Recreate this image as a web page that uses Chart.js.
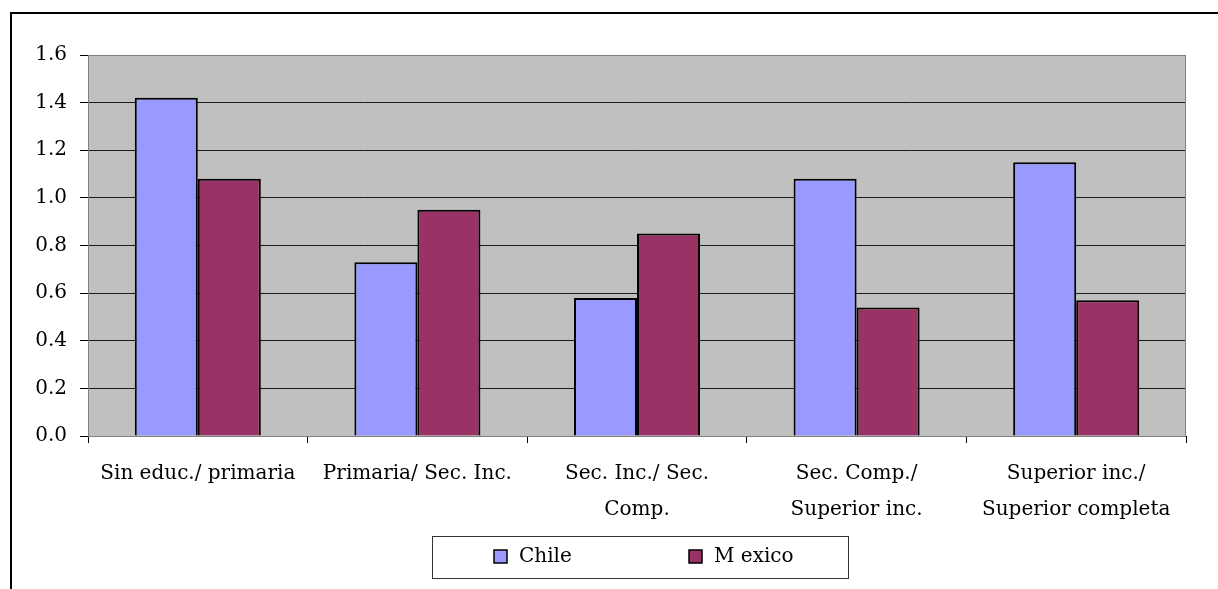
<!DOCTYPE html>
<html>
<head>
<meta charset="utf-8">
<script src="https://cdn.jsdelivr.net/npm/chart.js@4"></script>
<style>
  html, body { margin: 0; padding: 0; background: #fff; }
  #wrap { width: 1218px; height: 589px; position: relative; }
</style>
</head>
<body>
<div id="wrap"><canvas id="eduChart" width="1218" height="589"></canvas></div>
<script>
// categories and values
var categories = [
    "Sin educ./ primaria",
    "Primaria/ Sec. Inc.",
    ["Sec. Inc./ Sec.", "Comp."],
    ["Sec. Comp./", "Superior inc."],
    ["Superior inc./", "Superior completa"]
];
var chileValues = [1.42, 0.73, 0.58, 1.08, 1.15];
var mexicoValues = [1.08, 0.95, 0.85, 0.54, 0.57];
var yTicks = [0, 0.2, 0.4, 0.6, 0.8, 1.0, 1.2, 1.4, 1.6];

var serif = "'DejaVu Serif', serif";

// gray plot area, outer frame and the boxed legend
var decorations = {
    id: 'decorations',
    beforeDraw: function (chart) {
        var ctx = chart.ctx, a = chart.chartArea;
        ctx.save();
        ctx.fillStyle = '#C0C0C0';
        ctx.fillRect(a.left, a.top, a.right - a.left, a.bottom - a.top);
        ctx.restore();
    },
    afterDraw: function (chart) {
        var ctx = chart.ctx, a = chart.chartArea;
        ctx.save();
        // plot border
        ctx.strokeStyle = '#808080';
        ctx.lineWidth = 1;
        ctx.strokeRect(a.left + 0.5, a.top + 0.5, a.right - a.left - 1, a.bottom - a.top);
        // outer frame
        ctx.strokeStyle = '#000';
        ctx.lineWidth = 2;
        ctx.beginPath();
        ctx.moveTo(11, 589);
        ctx.lineTo(11, 13);
        ctx.lineTo(1218, 13);
        ctx.stroke();
        // legend
        ctx.lineWidth = 1;
        ctx.strokeStyle = '#333';
        ctx.strokeRect(432.5, 536.5, 416, 42);
        var items = [
            { x: 494, label: chart.data.datasets[0].label, color: chart.data.datasets[0].backgroundColor },
            { x: 689, label: chart.data.datasets[1].label, color: chart.data.datasets[1].backgroundColor }
        ];
        ctx.font = '20px ' + serif;
        ctx.textBaseline = 'middle';
        items.forEach(function (it) {
            ctx.fillStyle = it.color;
            ctx.fillRect(it.x, 550, 13, 13);
            ctx.strokeStyle = '#000';
            ctx.lineWidth = 1.5;
            ctx.strokeRect(it.x, 550, 13, 13);
            ctx.fillStyle = '#000';
            ctx.fillText(it.label, it.x + 25, 557);
        });
        ctx.restore();
    }
};

var ctx = document.getElementById("eduChart").getContext('2d');
var chartInstance = new Chart(ctx, {
    type: 'bar',
    data: {
        labels: categories,
        datasets: [{
            label: 'Chile',
            data: chileValues,
            backgroundColor: '#9999FF',
            borderColor: '#000',
            borderWidth: 2,
            barPercentage: 1.0,
            categoryPercentage: 0.574
        }, {
            label: 'M exico',
            data: mexicoValues,
            backgroundColor: '#993366',
            borderColor: '#000',
            borderWidth: 2,
            barPercentage: 1.0,
            categoryPercentage: 0.574
        }]
    },
    options: {
        responsive: false,
        animation: false,
        layout: { padding: { left: 0, top: 55, right: 32, bottom: 0 } },
        plugins: {
            legend: { display: false },
            tooltip: { enabled: false }
        },
        scales: {
            x: {
                border: { color: '#000', width: 1 },
                grid: { drawOnChartArea: false, drawTicks: true, tickLength: 7, color: '#000', offset: true },
                ticks: {
                    color: '#000',
                    font: { family: serif, size: 20, lineHeight: 1.8 },
                    padding: 13,
                    maxRotation: 0,
                    autoSkip: false
                },
                afterFit: function (scale) { scale.height = 153; }
            },
            y: {
                min: 0,
                max: 1.6,
                border: { color: '#808080', width: 1 },
                grid: { color: '#1a1a1a', drawTicks: true, tickLength: 8, tickColor: '#000' },
                afterBuildTicks: function (scale) {
                    scale.ticks = yTicks.map(function (v) { return { value: v }; });
                },
                ticks: {
                    color: '#000',
                    font: { family: serif, size: 20 },
                    padding: 13,
                    callback: function (v) { return Number(v).toFixed(1); }
                },
                afterFit: function (scale) { scale.width = 88; }
            }
        }
    },
    plugins: [decorations]
});
</script>
</body>
</html>
